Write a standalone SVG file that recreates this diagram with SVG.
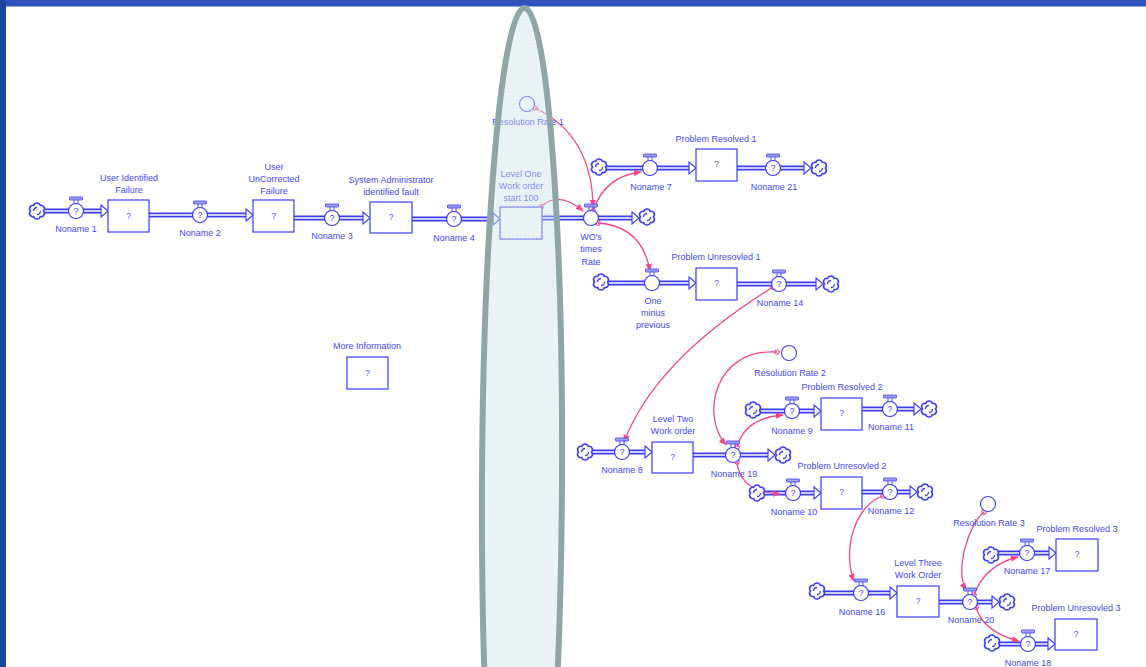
<svg xmlns="http://www.w3.org/2000/svg" xmlns:xlink="http://www.w3.org/1999/xlink" width="1146" height="667" viewBox="0 0 1146 667">
<style>
text{font-family:"Liberation Sans",Arial,sans-serif;font-size:9px;fill:#4646f4;text-anchor:middle}
.q{font-size:8.5px;fill:#5050f0}
.box{fill:#fff;stroke:#3c3cf0;stroke-width:1.2}
.arc{fill:none;stroke:#f0468c;stroke-width:1.3;marker-start:url(#dot);marker-end:url(#ah)}
.tip{fill:#fff;stroke:#3c3cf0;stroke-width:1.1}
.aux{fill:#fff;stroke:#3c3cf0;stroke-width:1.1}
</style>
<defs>
<pattern id="dots" width="4" height="4" patternUnits="userSpaceOnUse">
<rect width="4" height="4" fill="#c6e0e6" fill-opacity="0.42"/>
<circle cx="2" cy="2" r="0.8" fill="#ffffff" fill-opacity="0.6"/>
</pattern>
<marker id="ah" viewBox="0 0 10 10" refX="9" refY="5" markerWidth="8" markerHeight="8" markerUnits="userSpaceOnUse" orient="auto">
<path d="M0,1 L10,5 L0,9 Z" fill="#f0468c"/>
</marker>
<marker id="dot" viewBox="0 0 6 6" refX="3" refY="3" markerWidth="6" markerHeight="6" markerUnits="userSpaceOnUse" orient="auto">
<circle cx="3" cy="3" r="2.2" fill="none" stroke="#f0468c" stroke-width="1.1"/>
</marker>
<g id="cloud" fill="none" stroke="#3c3cf0" stroke-width="1.6">
<path d="M6.5,0 A3.4,3.4 0 0 1 3.25,5.63 A3.4,3.4 0 0 1 -3.25,5.63 A3.4,3.4 0 0 1 -6.5,0 A3.4,3.4 0 0 1 -3.25,-5.63 A3.4,3.4 0 0 1 3.25,-5.63 A3.4,3.4 0 0 1 6.5,0 Z" fill="#fff"/>
<path d="M-3.5,0 A3.5,3.5 0 0 1 0,-3.5 M3.5,0 A3.5,3.5 0 0 1 0,3.5" stroke-width="1.3"/>
</g>
<g id="valve">
<rect x="-6.5" y="-14" width="13" height="3" rx="0.5" fill="#a0a0ff" stroke="#3c3cf0" stroke-width="0.8"/>
<path d="M-2,-11 V-7 M2,-11 V-7" stroke="#3c3cf0" stroke-width="0.9"/>
<circle r="7.5" fill="#fff" stroke="#3c3cf0" stroke-width="1.2"/>
</g>
<g id="pipeLines" fill="none">
<path d="M44,211 H102"/>
<path d="M149,215 H247"/>
<path d="M294,218 H364"/>
<path d="M412,219 H494"/>
<path d="M542,218 H633"/>
<path d="M606,168 H690"/>
<path d="M737,168 H805"/>
<path d="M608,283 H690"/>
<path d="M737,284 H817"/>
<path d="M592,452 H646"/>
<path d="M693,455 H769"/>
<path d="M760,411 H815"/>
<path d="M862,409 H915"/>
<path d="M764,493 H815"/>
<path d="M862,492 H911"/>
<path d="M824,593 H891"/>
<path d="M939,602 H993"/>
<path d="M998,553 H1050"/>
<path d="M999,644 H1049"/>
</g>
</defs>

<rect width="1146" height="667" fill="#fff"/>
<rect x="0" y="0" width="1146" height="6.5" fill="#3253b9"/>
<rect x="0" y="0" width="6" height="667" fill="#1d47a3"/>

<g id="connectors">
<g id="pipes">
<g stroke="#3c3cf0" stroke-width="5"><use href="#pipeLines"/></g>
<g stroke="#fff" stroke-width="1.6"><use href="#pipeLines"/></g>
<path class="tip" d="M101,205 L108,211 L101,217 Z"/>
<path class="tip" d="M246,209 L253,215 L246,221 Z"/>
<path class="tip" d="M363,212 L370,218 L363,224 Z"/>
<path class="tip" d="M493,213 L500,219 L493,225 Z"/>
<path class="tip" d="M632,212 L639,218 L632,224 Z"/>
<path class="tip" d="M689,162 L696,168 L689,174 Z"/>
<path class="tip" d="M804,162 L811,168 L804,174 Z"/>
<path class="tip" d="M689,277 L696,283 L689,289 Z"/>
<path class="tip" d="M816,278 L823,284 L816,290 Z"/>
<path class="tip" d="M645,446 L652,452 L645,458 Z"/>
<path class="tip" d="M768,449 L775,455 L768,461 Z"/>
<path class="tip" d="M814,405 L821,411 L814,417 Z"/>
<path class="tip" d="M914,403 L921,409 L914,415 Z"/>
<path class="tip" d="M814,487 L821,493 L814,499 Z"/>
<path class="tip" d="M910,486 L917,492 L910,498 Z"/>
<path class="tip" d="M890,587 L897,593 L890,599 Z"/>
<path class="tip" d="M992,596 L999,602 L992,608 Z"/>
<path class="tip" d="M1049,547 L1056,553 L1049,559 Z"/>
<path class="tip" d="M1048,638 L1055,644 L1048,650 Z"/>
</g>
<g id="links">
<path class="arc" d="M535,108 Q592,135 593,207"/>
<path class="arc" d="M541,207 Q558,190 583,211"/>
<path class="arc" d="M593,211 Q605,176 641,172"/>
<path class="arc" d="M598,223 Q642,226 650,271"/>
<path class="arc" d="M773,287 Q655,360 624,442"/>
<path class="arc" d="M777,352 C715,348 700,415 726,445"/>
<path class="arc" d="M737,447 Q745,418 783,415"/>
<path class="arc" d="M737,462 Q740,492 780,494"/>
<path class="arc" d="M883,496 C855,505 842,550 854,581"/>
<path class="arc" d="M984,512 C968,525 955,570 966,590"/>
<path class="arc" d="M974,595 Q985,565 1018,557"/>
<path class="arc" d="M976,607 Q983,632 1019,641"/>
</g>
</g>

<g id="clouds">
<use href="#cloud" x="37" y="211"/>
<use href="#cloud" x="647" y="217"/>
<use href="#cloud" x="599" y="167"/>
<use href="#cloud" x="819" y="168"/>
<use href="#cloud" x="601" y="282"/>
<use href="#cloud" x="831" y="284"/>
<use href="#cloud" x="585" y="452"/>
<use href="#cloud" x="783" y="455"/>
<use href="#cloud" x="753" y="410"/>
<use href="#cloud" x="929" y="409"/>
<use href="#cloud" x="757" y="493"/>
<use href="#cloud" x="925" y="492"/>
<use href="#cloud" x="817" y="591"/>
<use href="#cloud" x="1007" y="602"/>
<use href="#cloud" x="991" y="555"/>
<use href="#cloud" x="992" y="643"/>
</g>

<g id="stock-user-identified-failure">
<rect class="box" x="108" y="200" width="41" height="32"/>
<text class="q" x="128.5" y="219">?</text>
<text x="129" y="181">User Identified</text>
<text x="129" y="193">Failure</text>
</g>
<g id="stock-user-uncorrected-failure">
<rect class="box" x="253" y="200" width="41" height="32"/>
<text class="q" x="273.5" y="219">?</text>
<text x="274" y="170">User</text>
<text x="274" y="182">UnCorrected</text>
<text x="274" y="194">Failure</text>
</g>
<g id="stock-system-administrator">
<rect class="box" x="370" y="202" width="42" height="31"/>
<text class="q" x="391" y="220">?</text>
<text x="391" y="183">System Administrator</text>
<text x="391" y="195">identified fault</text>
</g>
<g id="stock-level-one">
<rect class="box" x="500" y="207" width="42" height="32"/>
<text x="521" y="177">Level One</text>
<text x="521" y="189">Work order</text>
<text x="521" y="201">start 100</text>
</g>
<g id="stock-problem-resolved-1">
<rect class="box" x="696" y="149" width="41" height="32"/>
<text class="q" x="716.5" y="167">?</text>
<text x="716" y="142">Problem Resolved 1</text>
</g>
<g id="stock-problem-unresolved-1">
<rect class="box" x="696" y="268" width="41" height="32"/>
<text class="q" x="716.5" y="286">?</text>
<text x="716" y="260">Problem Unresovled 1</text>
</g>
<g id="stock-level-two">
<rect class="box" x="652" y="442" width="41" height="31"/>
<text class="q" x="672.5" y="460">?</text>
<text x="673" y="422">Level Two</text>
<text x="673" y="434">Work order</text>
</g>
<g id="stock-problem-resolved-2">
<rect class="box" x="821" y="398" width="41" height="32"/>
<text class="q" x="841.5" y="416">?</text>
<text x="842" y="390">Problem Resolved 2</text>
</g>
<g id="stock-problem-unresolved-2">
<rect class="box" x="821" y="477" width="41" height="32"/>
<text class="q" x="841.5" y="495">?</text>
<text x="842" y="469">Problem Unresovled 2</text>
</g>
<g id="stock-level-three">
<rect class="box" x="897" y="586" width="42" height="31"/>
<text class="q" x="918" y="604">?</text>
<text x="918" y="566">Level Three</text>
<text x="918" y="578">Work Order</text>
</g>
<g id="stock-problem-resolved-3">
<rect class="box" x="1056" y="539" width="42" height="32"/>
<text class="q" x="1077" y="557">?</text>
<text x="1077" y="532">Problem Resolved 3</text>
</g>
<g id="stock-problem-unresolved-3">
<rect class="box" x="1055" y="619" width="42" height="31"/>
<text class="q" x="1076" y="637">?</text>
<text x="1076" y="611">Problem Unresovled 3</text>
</g>
<g id="stock-more-information">
<rect class="box" x="347" y="357" width="41" height="32"/>
<text class="q" x="367.5" y="376">?</text>
<text x="367" y="349">More Information</text>
</g>

<g id="aux-resolution-rate-1">
<circle class="aux" cx="527" cy="104" r="7.5"/>
<text x="528" y="125">Resolution Rate 1</text>
</g>
<g id="aux-resolution-rate-2">
<circle class="aux" cx="789" cy="353" r="7.5"/>
<text x="790" y="376">Resolution Rate 2</text>
</g>
<g id="aux-resolution-rate-3">
<circle class="aux" cx="988" cy="504" r="7.5"/>
<text x="989" y="526">Resolution Rate 3</text>
</g>

<g id="valve-noname-1"><use href="#valve" x="76" y="211"/><text x="76" y="214">?</text><text x="76" y="232">Noname 1</text></g>
<g id="valve-noname-2"><use href="#valve" x="200" y="215"/><text x="200" y="218">?</text><text x="200" y="236">Noname 2</text></g>
<g id="valve-noname-3"><use href="#valve" x="332" y="218"/><text x="332" y="221">?</text><text x="332" y="239">Noname 3</text></g>
<g id="valve-noname-4"><use href="#valve" x="454" y="219"/><text x="454" y="222">?</text><text x="454" y="241">Noname 4</text></g>
<g id="valve-wos-times-rate"><use href="#valve" x="591" y="218"/><text x="591" y="240">WO's</text><text x="591" y="252">times</text><text x="591" y="265">Rate</text></g>
<g id="valve-noname-7"><use href="#valve" x="650" y="168"/><text x="651" y="190">Noname 7</text></g>
<g id="valve-noname-21"><use href="#valve" x="773" y="168"/><text x="773" y="171">?</text><text x="774" y="190">Noname 21</text></g>
<g id="valve-one-minus-previous"><use href="#valve" x="652" y="283"/><text x="653" y="304">One</text><text x="653" y="316">minus</text><text x="653" y="328">previous</text></g>
<g id="valve-noname-14"><use href="#valve" x="779" y="284"/><text x="779" y="287">?</text><text x="780" y="306">Noname 14</text></g>
<g id="valve-noname-8"><use href="#valve" x="622" y="452"/><text x="622" y="455">?</text><text x="622" y="473">Noname 8</text></g>
<g id="valve-noname-19"><use href="#valve" x="733" y="455"/><text x="733" y="458">?</text><text x="734" y="477">Noname 19</text></g>
<g id="valve-noname-9"><use href="#valve" x="792" y="411"/><text x="792" y="414">?</text><text x="792" y="434">Noname 9</text></g>
<g id="valve-noname-11"><use href="#valve" x="890" y="409"/><text x="890" y="412">?</text><text x="891" y="430">Noname 11</text></g>
<g id="valve-noname-10"><use href="#valve" x="793" y="493"/><text x="793" y="496">?</text><text x="794" y="515">Noname 10</text></g>
<g id="valve-noname-12"><use href="#valve" x="890" y="492"/><text x="890" y="495">?</text><text x="891" y="514">Noname 12</text></g>
<g id="valve-noname-16"><use href="#valve" x="861" y="593"/><text x="861" y="596">?</text><text x="862" y="615">Noname 16</text></g>
<g id="valve-noname-20"><use href="#valve" x="970" y="602"/><text x="970" y="605">?</text><text x="971" y="623">Noname 20</text></g>
<g id="valve-noname-17"><use href="#valve" x="1027" y="553"/><text x="1027" y="556">?</text><text x="1027" y="574">Noname 17</text></g>
<g id="valve-noname-18"><use href="#valve" x="1028" y="644"/><text x="1028" y="647">?</text><text x="1028" y="666">Noname 18</text></g>

<g id="highlight-ellipse">
<ellipse cx="522" cy="480" rx="40" ry="472" transform="rotate(0.3 522 480)" fill="url(#dots)" stroke="#8ea6a8" stroke-width="6"/>
</g>
</svg>
